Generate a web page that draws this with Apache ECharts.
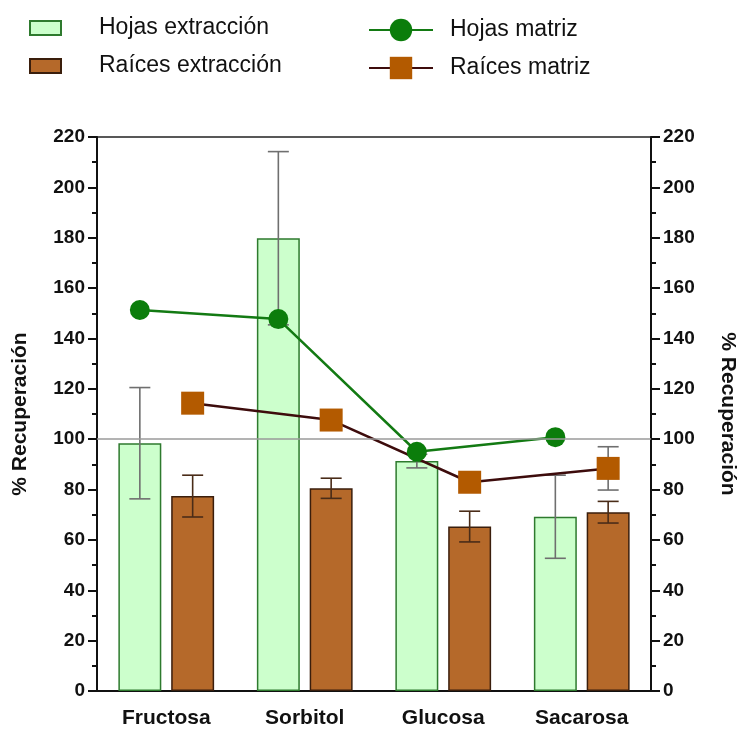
<!DOCTYPE html>
<html>
<head>
<meta charset="utf-8">
<script src="https://cdn.jsdelivr.net/npm/echarts@6/dist/echarts.min.js"></script>
<style>
  html, body { margin: 0; padding: 0; background: #ffffff; }
  #chart { width: 739px; height: 729px; }
</style>
</head>
<body>
<div id="chart"></div>
<script>
// Sugar recovery (%) by tissue and method
const categories = ['Fructosa', 'Sorbitol', 'Glucosa', 'Sacarosa'];
const hojasExtraccion = [98.4, 179.8, 91.3, 69.2];
const hojasExtraccionErr = [22.1, 34.4, 2.7, 16.5];
const raicesExtraccion = [77.4, 80.5, 65.3, 71.0];
const raicesExtraccionErr = [8.3, 4.0, 6.1, 4.3];
const hojasMatriz = [151.3, 147.7, 95.0, 100.8];
const raicesMatriz = [114.3, 107.6, 82.9, 88.4];
const raicesMatrizErr = [null, null, null, 8.6];
const yTicks = [0, 20, 40, 60, 80, 100, 120, 140, 160, 180, 200, 220];
const referenceLevel = 100;

// Bar layout inside each category band (fractions of the band)
const BAR_W = 0.31;
const BAR_GAP = 0.23;
const PAIR_OFFSET = BAR_W * (1 + BAR_GAP) / 2;

const FONT = '"Liberation Sans", Arial, Helvetica, sans-serif';
const C = {
  hojasFill: '#ccffcc', hojasEdge: '#2e7a2e',
  raicesFill: '#b5692a', raicesEdge: '#3a1e0c',
  hojasLine: '#137a13', hojasMark: '#0b7d0b',
  raicesLine: '#3d0c0c', raicesMark: '#b35a00',
  errGray: '#6f6f6f', errBrown: '#4a2c18', axis: '#111111'
};

function errorData(means, errs) {
  const out = [];
  means.forEach((m, i) => { if (errs[i] != null) out.push([i, m, errs[i]]); });
  return out;
}

function errorSeries(name, means, errs, offset, color) {
  return {
    type: 'custom',
    name: name,
    xAxisIndex: 0, yAxisIndex: 0,
    z: 3, silent: true,
    data: errorData(means, errs),
    renderItem: function (params, api) {
      const band = api.size([1, 0])[0];
      const cx = api.coord([api.value(0), 0])[0] + offset * band;
      const m = api.value(1), e = api.value(2);
      const yHi = api.coord([api.value(0), m + e])[1];
      const yLo = api.coord([api.value(0), m - e])[1];
      const cap = 10.5;
      const style = { stroke: color, lineWidth: 1.6, fill: null };
      return {
        type: 'group',
        children: [
          { type: 'line', shape: { x1: cx, y1: yHi, x2: cx, y2: yLo }, style: style },
          { type: 'line', shape: { x1: cx - cap, y1: yHi, x2: cx + cap, y2: yHi }, style: style },
          { type: 'line', shape: { x1: cx - cap, y1: yLo, x2: cx + cap, y2: yLo }, style: style }
        ]
      };
    }
  };
}

function yAxisDef(position) {
  const left = position === 'left';
  return {
    type: 'value',
    position: position,
    min: yTicks[0],
    max: yTicks[yTicks.length - 1],
    interval: yTicks[1] - yTicks[0],
    name: '% Recuperación',
    nameLocation: 'middle',
    nameRotate: left ? 90 : -90,
    nameGap: 66,
    nameTextStyle: { fontFamily: FONT, fontSize: 21, fontWeight: 'bold', color: C.axis },
    axisLine: { show: true, onZero: false, lineStyle: { color: C.axis, width: 2 } },
    axisTick: { show: true, inside: false, length: 9, lineStyle: { color: C.axis, width: 2 } },
    minorTick: { show: true, splitNumber: 2, length: 5, lineStyle: { color: C.axis, width: 2 } },
    axisLabel: { fontFamily: FONT, fontSize: 19, fontWeight: 'bold', color: C.axis, margin: 12 },
    splitLine: { show: false }
  };
}

const chart = echarts.init(document.getElementById('chart'), null, { renderer: 'canvas' });

chart.setOption({
  animation: false,
  backgroundColor: '#ffffff',
  grid: {
    left: 97, right: 88, top: 137, bottom: 38,
    outerBoundsMode: 'none',
    containLabel: false,
    show: true, borderColor: '#222222', borderWidth: 1.5, backgroundColor: 'transparent'
  },
  legend: [
    {
      data: [
        { name: 'Hojas extracción', icon: 'rect' },
        { name: 'Raíces extracción', icon: 'rect' }
      ],
      orient: 'vertical', left: 29, top: 16, padding: 0,
      itemWidth: 31, itemHeight: 14, itemGap: 14,
      textStyle: { fontFamily: FONT, fontSize: 23, color: '#111', lineHeight: 24, padding: [0, 0, 0, 33] },
      selectedMode: false
    },
    {
      data: ['Hojas matriz', 'Raíces matriz'],
      orient: 'vertical', left: 368, top: 16, padding: 0,
      itemWidth: 64, itemHeight: 28, itemGap: 10,
      textStyle: { fontFamily: FONT, fontSize: 23, color: '#111', lineHeight: 28, padding: [0, 0, 0, 12] },
      selectedMode: false
    }
  ],
  xAxis: [
    {
      type: 'category',
      data: categories,
      boundaryGap: true,
      axisLine: { lineStyle: { color: C.axis, width: 2 } },
      axisTick: { alignWithLabel: true, length: 8, lineStyle: { color: C.axis, width: 2 } },
      axisLabel: { fontFamily: FONT, fontSize: 21, fontWeight: 'bold', color: C.axis, margin: 17 }
    },
    {
      type: 'value',
      min: -0.5, max: categories.length - 0.5,
      show: false
    }
  ],
  yAxis: [yAxisDef('left'), yAxisDef('right')],
  series: [
    {
      type: 'line',
      name: 'ref',
      xAxisIndex: 0, yAxisIndex: 0,
      data: [],
      z: 1, silent: true,
      markLine: {
        silent: true, symbol: 'none', label: { show: false },
        lineStyle: { color: '#9a9a9a', width: 1.5, type: 'solid' },
        data: [{ yAxis: referenceLevel }]
      }
    },
    {
      type: 'bar',
      name: 'Hojas extracción',
      xAxisIndex: 0, yAxisIndex: 0,
      data: hojasExtraccion,
      barWidth: (BAR_W * 100) + '%',
      barGap: (BAR_GAP * 100) + '%',
      z: 2,
      itemStyle: { color: C.hojasFill, borderColor: C.hojasEdge, borderWidth: 1.5 }
    },
    {
      type: 'bar',
      name: 'Raíces extracción',
      xAxisIndex: 0, yAxisIndex: 0,
      data: raicesExtraccion,
      barWidth: (BAR_W * 100) + '%',
      barGap: (BAR_GAP * 100) + '%',
      z: 2,
      itemStyle: { color: C.raicesFill, borderColor: C.raicesEdge, borderWidth: 1.5 }
    },
    errorSeries('err-hojas-ext', hojasExtraccion, hojasExtraccionErr, -PAIR_OFFSET, C.errGray),
    errorSeries('err-raices-ext', raicesExtraccion, raicesExtraccionErr, PAIR_OFFSET, C.errBrown),
    errorSeries('err-raices-mat', raicesMatriz, raicesMatrizErr, PAIR_OFFSET, C.errGray),
    {
      type: 'line',
      name: 'Hojas matriz',
      xAxisIndex: 1, yAxisIndex: 1,
      data: hojasMatriz.map((v, i) => [i - PAIR_OFFSET, v]),
      symbol: 'circle', symbolSize: 20,
      z: 4,
      lineStyle: { color: C.hojasLine, width: 2.5 },
      itemStyle: { color: C.hojasMark, borderWidth: 0 }
    },
    {
      type: 'line',
      name: 'Raíces matriz',
      xAxisIndex: 1, yAxisIndex: 1,
      data: raicesMatriz.map((v, i) => [i + PAIR_OFFSET, v]),
      symbol: 'rect', symbolSize: 23,
      z: 4,
      lineStyle: { color: C.raicesLine, width: 2.5 },
      itemStyle: { color: C.raicesMark, borderWidth: 0 }
    }
  ]
});
</script>
</body>
</html>
